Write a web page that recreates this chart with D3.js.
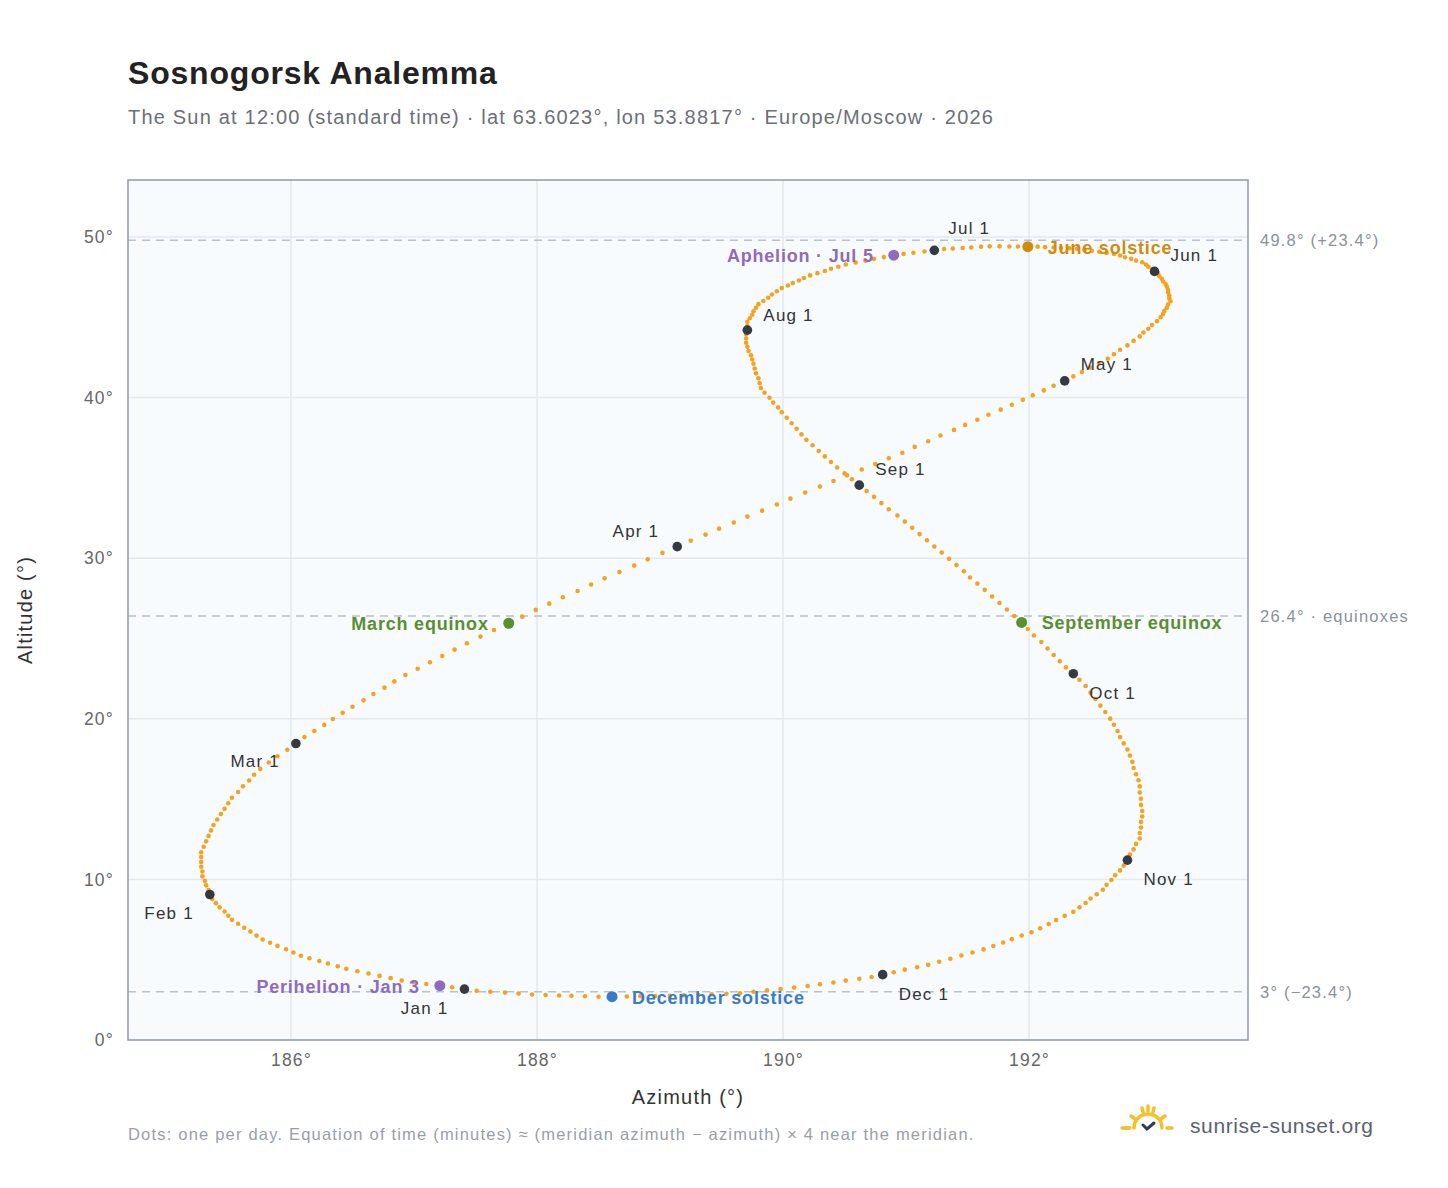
<!DOCTYPE html>
<html><head><meta charset="utf-8">
<script src="https://cdn.jsdelivr.net/npm/d3@7"></script>
<style>body{margin:0;background:#fff;font-family:"Liberation Sans",Arial,sans-serif} svg text{letter-spacing:1.2px}</style>
</head><body><svg id="c" width="1448" height="1188"></svg>
<script>
// daily sun position at 12:00 standard time, Jan 1 .. Dec 31
const azimuth = [
187.41,187.31,187.21,187.10,187.00,186.90,186.81,186.72,186.63,186.54,186.45,186.38,186.30,186.23,186.15,
186.08,186.02,185.96,185.89,185.83,185.77,185.72,185.67,185.62,185.57,185.52,185.49,185.46,185.42,185.39,
185.36,185.34,185.33,185.31,185.30,185.28,185.28,185.27,185.27,185.27,185.27,185.29,185.31,185.33,185.35,
185.37,185.40,185.43,185.46,185.49,185.52,185.57,185.61,185.66,185.70,185.75,185.82,185.89,185.97,186.04,
186.11,186.19,186.27,186.34,186.42,186.50,186.59,186.67,186.76,186.84,186.93,187.03,187.13,187.23,187.33,
187.43,187.54,187.65,187.77,187.88,187.99,188.10,188.21,188.33,188.44,188.55,188.67,188.79,188.90,189.02,
189.14,189.25,189.37,189.48,189.60,189.71,189.83,189.95,190.06,190.18,190.30,190.41,190.52,190.64,190.75,
190.86,190.97,191.07,191.18,191.28,191.39,191.48,191.58,191.67,191.77,191.86,191.95,192.03,192.12,192.20,
192.29,192.36,192.43,192.50,192.57,192.64,192.69,192.74,192.80,192.85,192.90,192.93,192.97,193.00,193.04,
193.07,193.09,193.10,193.12,193.13,193.15,193.14,193.14,193.13,193.13,193.12,193.11,193.09,193.08,193.06,
193.05,193.02,193.00,192.97,192.95,192.92,192.87,192.83,192.78,192.74,192.69,192.63,192.57,192.51,192.45,
192.39,192.33,192.26,192.20,192.13,192.07,191.99,191.91,191.84,191.76,191.68,191.61,191.53,191.46,191.38,
191.31,191.23,191.15,191.06,190.98,190.90,190.82,190.74,190.67,190.59,190.51,190.45,190.39,190.34,190.28,
190.22,190.17,190.13,190.08,190.04,189.99,189.95,189.91,189.88,189.84,189.80,189.78,189.76,189.75,189.73,
189.71,189.71,189.71,189.70,189.70,189.70,189.71,189.72,189.74,189.75,189.76,189.77,189.78,189.80,189.81,
189.82,189.85,189.89,189.92,189.96,189.99,190.03,190.07,190.11,190.15,190.19,190.24,190.29,190.34,190.39,
190.44,190.50,190.56,190.62,190.68,190.74,190.80,190.86,190.93,190.99,191.05,191.11,191.17,191.23,191.29,
191.35,191.41,191.47,191.52,191.58,191.64,191.70,191.76,191.82,191.88,191.94,191.99,192.04,192.10,192.15,
192.20,192.25,192.30,192.36,192.41,192.46,192.50,192.54,192.58,192.62,192.66,192.69,192.72,192.74,192.77,
192.80,192.82,192.84,192.85,192.87,192.89,192.90,192.90,192.91,192.91,192.92,192.92,192.91,192.91,192.90,
192.90,192.87,192.85,192.82,192.80,192.77,192.74,192.70,192.67,192.63,192.60,192.55,192.50,192.46,192.41,
192.36,192.29,192.22,192.16,192.09,192.02,191.94,191.86,191.79,191.71,191.63,191.54,191.45,191.36,191.27,
191.18,191.09,190.99,190.90,190.81,190.72,190.62,190.51,190.41,190.30,190.20,190.09,189.98,189.87,189.76,
189.65,189.54,189.42,189.31,189.19,189.08,188.96,188.84,188.73,188.61,188.50,188.39,188.28,188.18,188.07,
187.96,187.85,187.74,187.62,187.51];
const altitude = [
3.17,3.28,3.38,3.49,3.59,3.70,3.85,3.99,4.14,4.28,4.43,4.59,4.76,4.92,5.09,
5.25,5.45,5.65,5.86,6.06,6.26,6.50,6.75,6.99,7.24,7.48,7.74,8.00,8.26,8.52,
8.78,9.06,9.34,9.63,9.91,10.19,10.49,10.79,11.09,11.39,11.69,12.03,12.37,12.71,13.05,
13.39,13.73,14.07,14.40,14.74,15.08,15.44,15.80,16.16,16.52,16.88,17.28,17.67,18.07,18.46,
18.86,19.24,19.62,19.99,20.37,20.75,21.15,21.54,21.94,22.33,22.73,23.12,23.52,23.91,24.31,
24.70,25.12,25.53,25.95,26.36,26.78,27.17,27.57,27.96,28.36,28.75,29.14,29.54,29.93,30.33,
30.72,31.09,31.47,31.84,32.22,32.59,32.96,33.34,33.71,34.09,34.46,34.81,35.16,35.52,35.87,
36.22,36.57,36.93,37.28,37.64,37.99,38.30,38.62,38.93,39.25,39.56,39.86,40.15,40.45,40.74,
41.04,41.32,41.59,41.87,42.14,42.42,42.70,42.98,43.25,43.53,43.81,44.05,44.29,44.52,44.76,
45.00,45.20,45.40,45.60,45.80,46.00,46.18,46.36,46.55,46.73,46.91,47.07,47.23,47.40,47.56,
47.72,47.86,48.00,48.15,48.29,48.43,48.53,48.64,48.74,48.85,48.95,49.01,49.08,49.14,49.21,
49.27,49.30,49.32,49.35,49.37,49.40,49.40,49.41,49.41,49.42,49.42,49.39,49.35,49.32,49.28,
49.25,49.17,49.10,49.02,48.95,48.87,48.75,48.64,48.52,48.41,48.29,48.15,48.02,47.88,47.75,
47.61,47.45,47.29,47.14,46.98,46.82,46.62,46.42,46.22,46.02,45.82,45.60,45.38,45.16,44.94,
44.72,44.46,44.20,43.94,43.68,43.42,43.16,42.90,42.63,42.37,42.11,41.81,41.51,41.20,40.90,
40.60,40.30,39.99,39.69,39.39,39.09,38.75,38.40,38.06,37.71,37.37,37.03,36.68,36.34,35.99,
35.65,35.28,34.92,34.55,34.18,33.82,33.43,33.05,32.66,32.28,31.89,31.50,31.12,30.73,30.35,
29.96,29.57,29.19,28.80,28.42,28.03,27.62,27.21,26.81,26.40,26.00,25.59,25.19,24.78,24.38,
23.97,23.58,23.20,22.81,22.43,22.04,21.63,21.23,20.82,20.42,20.01,19.63,19.24,18.86,18.47,
18.09,17.71,17.32,16.94,16.55,16.17,15.79,15.41,15.02,14.64,14.26,13.92,13.58,13.23,12.89,
12.55,12.21,11.87,11.54,11.20,10.86,10.56,10.26,9.96,9.66,9.36,9.08,8.81,8.53,8.26,
7.98,7.73,7.47,7.22,6.96,6.71,6.50,6.28,6.07,5.85,5.64,5.45,5.26,5.06,4.87,
4.68,4.53,4.38,4.22,4.07,3.92,3.81,3.70,3.58,3.47,3.36,3.27,3.18,3.09,3.00,
2.91,2.88,2.85,2.81,2.78,2.75,2.74,2.73,2.71,2.70,2.69,2.72,2.75,2.77,2.80,
2.83,2.89,2.95,3.00,3.06];

const monthLabels = ["Jan 1","Feb 1","Mar 1","Apr 1","May 1","Jun 1","Jul 1","Aug 1","Sep 1","Oct 1","Nov 1","Dec 1"];
const monthDays = [0,31,59,90,120,151,181,212,243,273,304,334];
const eventLabels = ["Perihelion · Jan 3","March equinox","June solstice","Aphelion · Jul 5","September equinox","December solstice"];
const eventDays = [2,78,171,185,265,354];
const refLines = [49.8, 26.4, 3];
const refLabels = ["49.8° (+23.4°)","26.4° · equinoxes","3° (−23.4°)"];
const xTicks = [186,188,190,192];
const yTicks = [0,10,20,30,40,50];

const svg = d3.select("#c");
const L = 128, R = 1248, T = 180, B = 1040;
const x = d3.scaleLinear().domain([184.675, 193.78]).range([L, R]);
const y = d3.scaleLinear().domain([0, 53.55]).range([B, T]);

svg.append("text").attr("x",128).attr("y",84).attr("font-size",32).attr("font-weight","bold")
  .attr("fill","#222").style("letter-spacing","0.8px").text("Sosnogorsk Analemma");
svg.append("text").attr("x",128).attr("y",124).attr("font-size",20).attr("fill","#6b6f78")
  .text("The Sun at 12:00 (standard time) · lat 63.6023°, lon 53.8817° · Europe/Moscow · 2026");

svg.append("rect").attr("x",L).attr("y",T).attr("width",R-L).attr("height",B-T).attr("fill","#f8fbfe");

const grid = svg.append("g").attr("stroke","#e3e9ef").attr("stroke-width",1.5);
xTicks.forEach(t => grid.append("line").attr("x1",x(t)).attr("x2",x(t)).attr("y1",T).attr("y2",B));
yTicks.forEach(t => grid.append("line").attr("x1",L).attr("x2",R).attr("y1",y(t)).attr("y2",y(t)));

refLines.forEach((v,i) => {
  svg.append("line").attr("x1",L).attr("x2",R).attr("y1",y(v)).attr("y2",y(v))
    .attr("stroke","#b8c1cc").attr("stroke-width",1.5).attr("stroke-dasharray","8,6");
  svg.append("text").attr("x",1260).attr("y",y(v)+6).attr("font-size",16.5).attr("fill","#8a919b").text(refLabels[i]);
});

svg.append("rect").attr("x",L).attr("y",T).attr("width",R-L).attr("height",B-T)
  .attr("fill","none").attr("stroke","#8f9bab").attr("stroke-width",1.5);

const xa = svg.append("g").attr("transform",`translate(0,${B})`)
  .call(d3.axisBottom(x).tickValues(xTicks).tickFormat(d => d + "°").tickSize(0).tickPadding(14));
const ya = svg.append("g").attr("transform",`translate(${L},0)`)
  .call(d3.axisLeft(y).tickValues(yTicks).tickFormat(d => d + "°").tickSize(0).tickPadding(14));
[xa, ya].forEach(a => {
  a.select(".domain").remove();
  a.selectAll("text").attr("font-size",17.5).attr("fill","#666").attr("font-family","Liberation Sans, Arial, sans-serif");
});

svg.append("text").attr("x",688).attr("y",1104).attr("text-anchor","middle").attr("font-size",20)
  .attr("fill","#333").text("Azimuth (°)");
svg.append("text").attr("transform","translate(32,610) rotate(-90)").attr("text-anchor","middle")
  .attr("font-size",20).attr("fill","#333").text("Altitude (°)");

const days = azimuth.map((a,i) => ({az:a, alt:altitude[i]}));
svg.append("g").selectAll("circle").data(days).join("circle")
  .attr("cx",d => x(d.az)).attr("cy",d => y(d.alt)).attr("r",2.3).attr("fill","#f5a21e");

const monthOff = [[-16,20,"end"],[-16,20,"end"],[-16,18,"end"],[-18,-15,"end"],[16,-16,"start"],[16,-15,"start"],
  [14,-21,"start"],[16,-14,"start"],[16,-15,"start"],[16,20,"start"],[16,20,"start"],[16,20,"start"]];
monthDays.forEach((d,i) => {
  svg.append("circle").attr("cx",x(azimuth[d])).attr("cy",y(altitude[d])).attr("r",4.8).attr("fill","#343a44");
  const o = monthOff[i];
  svg.append("text").attr("x",x(azimuth[d])+o[0]).attr("y",y(altitude[d])+o[1]+5).attr("text-anchor",o[2])
    .attr("font-size",17).attr("fill","#333").text(monthLabels[i]);
});

const eventColor = ["#8e6bbf","#5a8f2e","#d08c0a","#8e6bbf","#5a8f2e","#3a7bc8"];
const eventSide = [-1,-1,1,-1,1,1];
eventDays.forEach((d,i) => {
  const cx = x(azimuth[d]), cy = y(altitude[d]);
  svg.append("circle").attr("cx",cx).attr("cy",cy).attr("r",5.5).attr("fill",eventColor[i]);
  svg.append("text").attr("x",cx + eventSide[i]*20).attr("y",cy+7)
    .attr("text-anchor",eventSide[i] < 0 ? "end" : "start").attr("font-size",18).attr("font-weight","bold")
    .attr("fill",eventColor[i]).style("letter-spacing","0.8px").text(eventLabels[i]);
});

svg.append("text").attr("x",128).attr("y",1140).attr("font-size",16.5).attr("fill","#999ea6")
  .text("Dots: one per day. Equation of time (minutes) ≈ (meridian azimuth − azimuth) × 4 near the meridian.");

// logo
const lg = svg.append("g").attr("transform","translate(1148,1128)").attr("stroke","#f5c02a")
  .attr("stroke-width",3.5).attr("stroke-linecap","round").attr("fill","none");
lg.append("path").attr("d","M-14,0 A14,14 0 0 1 14,0");
[[-24,0,-19,0],[19,0,24,0],[-17,-12,-13,-9],[13,-9,17,-12],[-6,-20,-5,-16],[5,-16,6,-20],[0,-22,0,-17]]
  .forEach(s => lg.append("line").attr("x1",s[0]).attr("y1",s[1]).attr("x2",s[2]).attr("y2",s[3]));
lg.append("line").attr("x1",-26).attr("y1",0).attr("x2",-18).attr("y2",0);
lg.append("path").attr("d","M-5,-3 L-1,1 L6,-5").attr("stroke","#2c3e50").attr("stroke-width",3);
svg.append("text").attr("x",1190).attr("y",1133).attr("font-size",21).attr("fill","#5c6270")
  .style("letter-spacing","0.6px").text("sunrise-sunset.org");
</script></body></html>
